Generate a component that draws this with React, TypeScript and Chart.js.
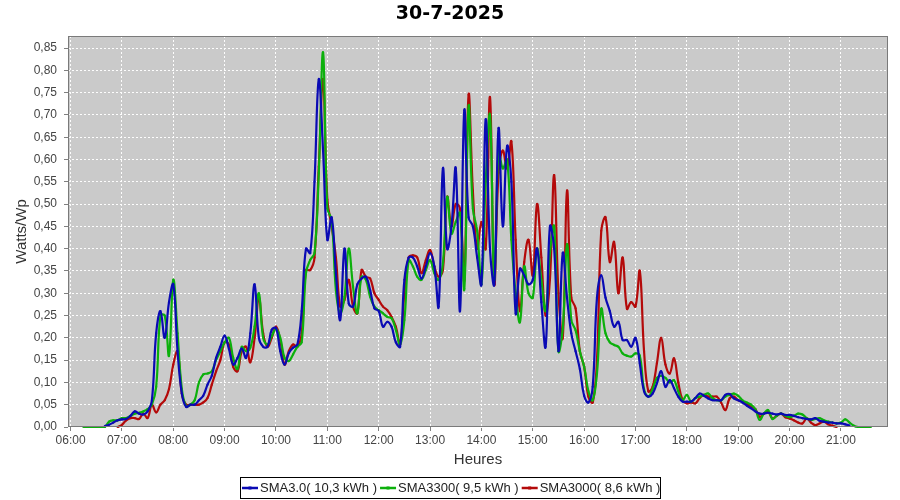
import React, { useEffect, useRef } from 'react';
import { Chart, registerables } from 'chart.js';

Chart.register(...registerables);

const chartTitle = '30-7-2025';
const yAxisTitle = 'Watts/Wp';
const xAxisTitle = 'Heures';
const seriesLabels = ['SMA3.0( 10,3 kWh )', 'SMA3300( 9,5 kWh )', 'SMA3000( 8,6 kWh )'];
const seriesColors = ['#0a0ab4', '#0cb00c', '#b40a0a'];

// one sample every 5 minutes, from 06:15 to 21:40
const firstSample = '06:15';
const sampleStepMinutes = 5;
const axisStart = '05:57';
const axisEnd = '21:55';

const hourTickLabels = [
  '06:00', '07:00', '08:00', '09:00', '10:00', '11:00', '12:00', '13:00',
  '14:00', '15:00', '16:00', '17:00', '18:00', '19:00', '20:00', '21:00',
];
const yTickValues = [
  0, 0.05, 0.1, 0.15, 0.2, 0.25, 0.3, 0.35, 0.4, 0.45, 0.5, 0.55, 0.6, 0.65, 0.7, 0.75, 0.8, 0.85,
];
const yMax = 0.877;

const sma30Values: (number | null)[] = [
  /*06:15*/ null, null, null, null, null, 0.002, 0.005, 0.01, 0.015,
  /*07*/ 0.017, 0.018, 0.025, 0.035, 0.03, 0.028, 0.035, 0.06, 0.21, 0.26, 0.2, 0.28,
  /*08*/ 0.32, 0.17, 0.075, 0.045, 0.05, 0.05, 0.06, 0.07, 0.095, 0.115, 0.155, 0.18,
  /*09*/ 0.205, 0.175, 0.14, 0.155, 0.176, 0.155, 0.21, 0.32, 0.2, 0.18, 0.18, 0.218,
  /*10*/ 0.222, 0.17, 0.14, 0.166, 0.178, 0.185, 0.26, 0.4, 0.39, 0.55, 0.78, 0.62,
  /*11*/ 0.42, 0.47, 0.345, 0.24, 0.4, 0.277, 0.27, 0.32, 0.333, 0.337, 0.307, 0.266,
  /*12*/ 0.26, 0.225, 0.236, 0.225, 0.19, 0.18, 0.33, 0.38, 0.38, 0.36, 0.333, 0.36,
  /*13*/ 0.39, 0.36, 0.27, 0.58, 0.4, 0.45, 0.58, 0.26, 0.71, 0.47, 0.45, 0.38,
  /*14*/ 0.32, 0.69, 0.4, 0.32, 0.67, 0.45, 0.63, 0.55, 0.255, 0.355, 0.34, 0.32,
  /*15*/ 0.33, 0.4, 0.28, 0.18, 0.45, 0.4, 0.17, 0.39, 0.29, 0.21, 0.17, 0.13,
  /*16*/ 0.07, 0.055, 0.09, 0.29, 0.34, 0.29, 0.26, 0.225, 0.236, 0.195, 0.195, 0.18,
  /*17*/ 0.2, 0.143, 0.08, 0.068, 0.075, 0.098, 0.125, 0.09, 0.105, 0.087, 0.068, 0.057,
  /*18*/ 0.057, 0.057, 0.065, 0.075, 0.07, 0.064, 0.06, 0.06, 0.06, 0.072, 0.074, 0.064,
  /*19*/ 0.06, 0.055, 0.048, 0.042, 0.035, 0.03, 0.03, 0.032, 0.03, 0.028, 0.03, 0.027,
  /*20*/ 0.027, 0.025, 0.022, 0.02, 0.018, 0.017, 0.02, 0.014, 0.012, 0.01, 0.01, 0.008,
  /*21*/ 0.008, 0.006, 0.003, null, null, null, null, null, null,
];

const sma3300Values: (number | null)[] = [
  /*06:15*/ 0, 0, 0, 0, 0, 0, 0.012, 0.015, 0.015,
  /*07*/ 0.02, 0.02, 0.025, 0.03, 0.032, 0.035, 0.04, 0.05, 0.09, 0.25, 0.25, 0.16,
  /*08*/ 0.33, 0.21, 0.085, 0.047, 0.05, 0.06, 0.1, 0.118, 0.12, 0.125, 0.15, 0.17,
  /*09*/ 0.19, 0.2, 0.155, 0.13, 0.18, 0.17, 0.178, 0.225, 0.3, 0.2, 0.185, 0.204,
  /*10*/ 0.22, 0.2, 0.155, 0.148, 0.163, 0.18, 0.19, 0.345, 0.375, 0.39, 0.57, 0.84,
  /*11*/ 0.49, 0.465, 0.307, 0.255, 0.292, 0.4, 0.315, 0.255, 0.337, 0.33, 0.292, 0.27,
  /*12*/ 0.262, 0.255, 0.247, 0.244, 0.218, 0.185, 0.24, 0.374, 0.36, 0.337, 0.33, 0.352,
  /*13*/ 0.374, 0.345, 0.33, 0.367, 0.516, 0.434, 0.46, 0.48, 0.31, 0.72, 0.49, 0.44,
  /*14*/ 0.32, 0.55, 0.7, 0.33, 0.62, 0.58, 0.6, 0.42, 0.3, 0.235, 0.36, 0.3,
  /*15*/ 0.29, 0.4, 0.33, 0.26, 0.39, 0.45, 0.17, 0.22, 0.41, 0.24, 0.217, 0.17,
  /*16*/ 0.135, 0.08, 0.06, 0.12, 0.265, 0.21, 0.19, 0.184, 0.18, 0.165, 0.16, 0.158,
  /*17*/ 0.165, 0.16, 0.085, 0.068, 0.085, 0.11, 0.115, 0.11, 0.1, 0.105, 0.08, 0.06,
  /*18*/ 0.072, 0.057, 0.065, 0.068, 0.072, 0.075, 0.065, 0.06, 0.06, 0.068, 0.072, 0.075,
  /*19*/ 0.07, 0.06, 0.055, 0.05, 0.04, 0.016, 0.03, 0.038, 0.018, 0.025, 0.03, 0.025,
  /*20*/ 0.022, 0.025, 0.03, 0.028, 0.02, 0.016, 0.018, 0.02, 0.015, 0.012, 0.01, 0.008,
  /*21*/ 0.01, 0.017, 0.01, 0.003, 0, 0, 0, 0, null,
];

const sma3000Values: (number | null)[] = [
  /*06:15*/ null, null, null, null, null, null, null, null, 0,
  /*07*/ 0.005, 0.015, 0.02, 0.02, 0.018, 0.03, 0.02, 0.05, 0.033, 0.05, 0.06, 0.085,
  /*08*/ 0.14, 0.17, 0.075, 0.05, 0.05, 0.05, 0.05, 0.055, 0.065, 0.095, 0.125, 0.15,
  /*09*/ 0.19, 0.185, 0.135, 0.125, 0.17, 0.18, 0.145, 0.2, 0.29, 0.21, 0.18, 0.2,
  /*10*/ 0.225, 0.195, 0.14, 0.17, 0.185, 0.18, 0.21, 0.352, 0.352, 0.38, 0.584, 0.78,
  /*11*/ 0.51, 0.45, 0.38, 0.27, 0.285, 0.33, 0.27, 0.255, 0.352, 0.337, 0.333, 0.3,
  /*12*/ 0.285, 0.27, 0.262, 0.247, 0.225, 0.185, 0.3, 0.38, 0.385, 0.38, 0.345, 0.374,
  /*13*/ 0.397, 0.36, 0.337, 0.352, 0.516, 0.45, 0.5, 0.49, 0.33, 0.745, 0.53, 0.4,
  /*14*/ 0.46, 0.4, 0.74, 0.32, 0.57, 0.62, 0.58, 0.64, 0.42, 0.26, 0.37, 0.42,
  /*15*/ 0.34, 0.5, 0.38, 0.25, 0.33, 0.565, 0.3, 0.2, 0.53, 0.29, 0.266, 0.17,
  /*16*/ 0.135, 0.068, 0.055, 0.15, 0.44, 0.47, 0.37, 0.415, 0.3, 0.38, 0.265, 0.28,
  /*17*/ 0.27, 0.35, 0.17, 0.08, 0.09, 0.143, 0.2, 0.14, 0.12, 0.154, 0.1, 0.06,
  /*18*/ 0.053, 0.055, 0.053, 0.065, 0.072, 0.068, 0.068, 0.068, 0.055, 0.038, 0.064, 0.068,
  /*19*/ 0.06, 0.058, 0.052, 0.046, 0.04, 0.023, 0.03, 0.034, 0.019, 0.025, 0.03, 0.022,
  /*20*/ 0.019, 0.015, 0.01, 0.008, 0.019, 0.01, 0.004, 0.008, 0.012, 0.006, 0.003, 0,
  /*21*/ null, null, null, null, null, null, null, null, null,
];

const toMinutes = (s: string) => {
  const [h, m] = s.split(':').map(Number);
  return h * 60 + m;
};
const fmtTime = (v: number) => {
  const h = Math.floor(v / 60);
  const m = Math.round(v - h * 60);
  return String(h).padStart(2, '0') + ':' + String(m).padStart(2, '0');
};

export default function App() {
  const canvasRef = useRef<HTMLCanvasElement>(null);

  useEffect(() => {
    document.body.style.margin = '0';
    const canvas = canvasRef.current;
    if (!canvas) return;
    const t0 = toMinutes(firstSample);
    const seriesValues = [sma30Values, sma3300Values, sma3000Values];
    const datasets = seriesValues.map((vals, i) => ({
      label: seriesLabels[i],
      data: vals.map((v, k) => ({ x: t0 + k * sampleStepMinutes, y: v })),
      borderColor: seriesColors[i],
      backgroundColor: seriesColors[i],
      borderWidth: 2.2,
      pointRadius: 1.1,
      pointBorderWidth: 0,
      pointHoverRadius: 0,
      tension: 0.4,
      fill: false,
      spanGaps: false,
      clip: { left: 0, top: 0, right: 0, bottom: 3 },
    }));

    const tickFont = { family: '"Liberation Sans", Arial, sans-serif', size: 12 };
    const titleFont = { family: '"Liberation Sans", Arial, sans-serif', size: 15 };

    const decor = {
      id: 'decor',
      beforeDraw(chart: any) {
        const { ctx, chartArea: a, width, height } = chart;
        ctx.save();
        ctx.fillStyle = '#ffffff';
        ctx.fillRect(0, 0, width, height);
        ctx.fillStyle = '#cacaca';
        ctx.fillRect(a.left, a.top, a.right - a.left, a.bottom - a.top);
        ctx.restore();
      },
      afterDraw(chart: any) {
        const { ctx, chartArea: a } = chart;
        ctx.save();
        ctx.strokeStyle = '#7a7a7a';
        ctx.lineWidth = 1;
        ctx.setLineDash([]);
        ctx.strokeRect(a.left + 0.5, a.top + 0.5, a.right - a.left - 1, a.bottom - a.top - 1);

        // title
        ctx.fillStyle = '#000000';
        ctx.font = 'bold 19px "DejaVu Sans", sans-serif';
        ctx.textAlign = 'center';
        ctx.textBaseline = 'middle';
        ctx.fillText(chartTitle, 450, 14);

        // legend
        ctx.font = '13px "Liberation Sans", Arial, sans-serif';
        const lineLen = 16;
        const gapAfterLine = 2;
        const itemGap = 3;
        const padX = 1;
        const widths = seriesLabels.map((l) => ctx.measureText(l).width);
        const total =
          padX * 2 +
          widths.reduce((s: number, w: number) => s + lineLen + gapAfterLine + w, 0) +
          itemGap * (seriesLabels.length - 1);
        const boxLeft = Math.round(450 - total / 2);
        const boxTop = 477;
        const boxH = 21;
        ctx.strokeStyle = '#000000';
        ctx.lineWidth = 1;
        ctx.strokeRect(boxLeft + 0.5, boxTop + 0.5, Math.round(total), boxH);
        let cx = boxLeft + padX + 1;
        const cy = boxTop + boxH / 2 + 0.5;
        seriesLabels.forEach((label, i) => {
          ctx.strokeStyle = seriesColors[i];
          ctx.lineWidth = 2.5;
          ctx.beginPath();
          ctx.moveTo(cx, cy);
          ctx.lineTo(cx + lineLen, cy);
          ctx.stroke();
          ctx.fillStyle = seriesColors[i];
          ctx.fillRect(cx + lineLen / 2 - 1.5, cy - 1.5, 3, 3);
          ctx.fillStyle = '#222222';
          ctx.textAlign = 'left';
          ctx.textBaseline = 'middle';
          ctx.fillText(label, cx + lineLen + gapAfterLine, cy);
          cx += lineLen + gapAfterLine + widths[i] + itemGap;
        });
        ctx.restore();
      },
    };

    const chart = new Chart(canvas, {
      type: 'line',
      data: { datasets: datasets as any },
      options: {
        responsive: false,
        animation: false,
        events: [],
        layout: { padding: { top: 36, right: 12, bottom: 34, left: 0 } },
        plugins: {
          legend: { display: false },
          title: { display: false },
          tooltip: { enabled: false },
        },
        scales: {
          x: {
            type: 'linear',
            min: toMinutes(axisStart),
            max: toMinutes(axisEnd),
            afterBuildTicks: (scale: any) => {
              scale.ticks = hourTickLabels.map((l) => ({ value: toMinutes(l) }));
            },
            afterFit: (scale: any) => {
              scale.height = 39;
            },
            ticks: {
              callback: (v: any) => fmtTime(Number(v)),
              color: '#444444',
              font: tickFont,
              padding: 2,
              maxRotation: 0,
              autoSkip: false,
            },
            grid: {
              color: 'rgba(255,255,255,0.95)',
              lineWidth: 1,
              tickLength: 4,
              tickColor: '#808080',
              tickBorderDash: [],
            },
            border: { display: false, dash: [2, 2] },
            title: {
              display: true,
              text: xAxisTitle,
              color: '#333333',
              font: titleFont,
              padding: { top: 0, bottom: -3 },
            },
          },
          y: {
            type: 'linear',
            min: 0,
            max: yMax,
            afterBuildTicks: (scale: any) => {
              scale.ticks = yTickValues.map((v) => ({ value: v }));
            },
            afterFit: (scale: any) => {
              scale.width = 68;
            },
            ticks: {
              callback: (v: any) => Number(v).toFixed(2).replace('.', ','),
              color: '#444444',
              font: tickFont,
              padding: 7,
              autoSkip: false,
            },
            grid: {
              color: 'rgba(255,255,255,0.95)',
              lineWidth: 1,
              tickLength: 4,
              tickColor: '#808080',
              tickBorderDash: [],
            },
            border: { display: false, dash: [2, 2] },
            title: {
              display: true,
              text: yAxisTitle,
              color: '#333333',
              font: titleFont,
              padding: { top: 13, bottom: 0 },
            },
          },
        },
      },
      plugins: [decor],
    });

    return () => chart.destroy();
  }, []);

  return (
    <div style={{ width: 900, height: 500, background: '#ffffff' }}>
      <canvas ref={canvasRef} width={900} height={500} style={{ display: 'block' }} />
    </div>
  );
}
